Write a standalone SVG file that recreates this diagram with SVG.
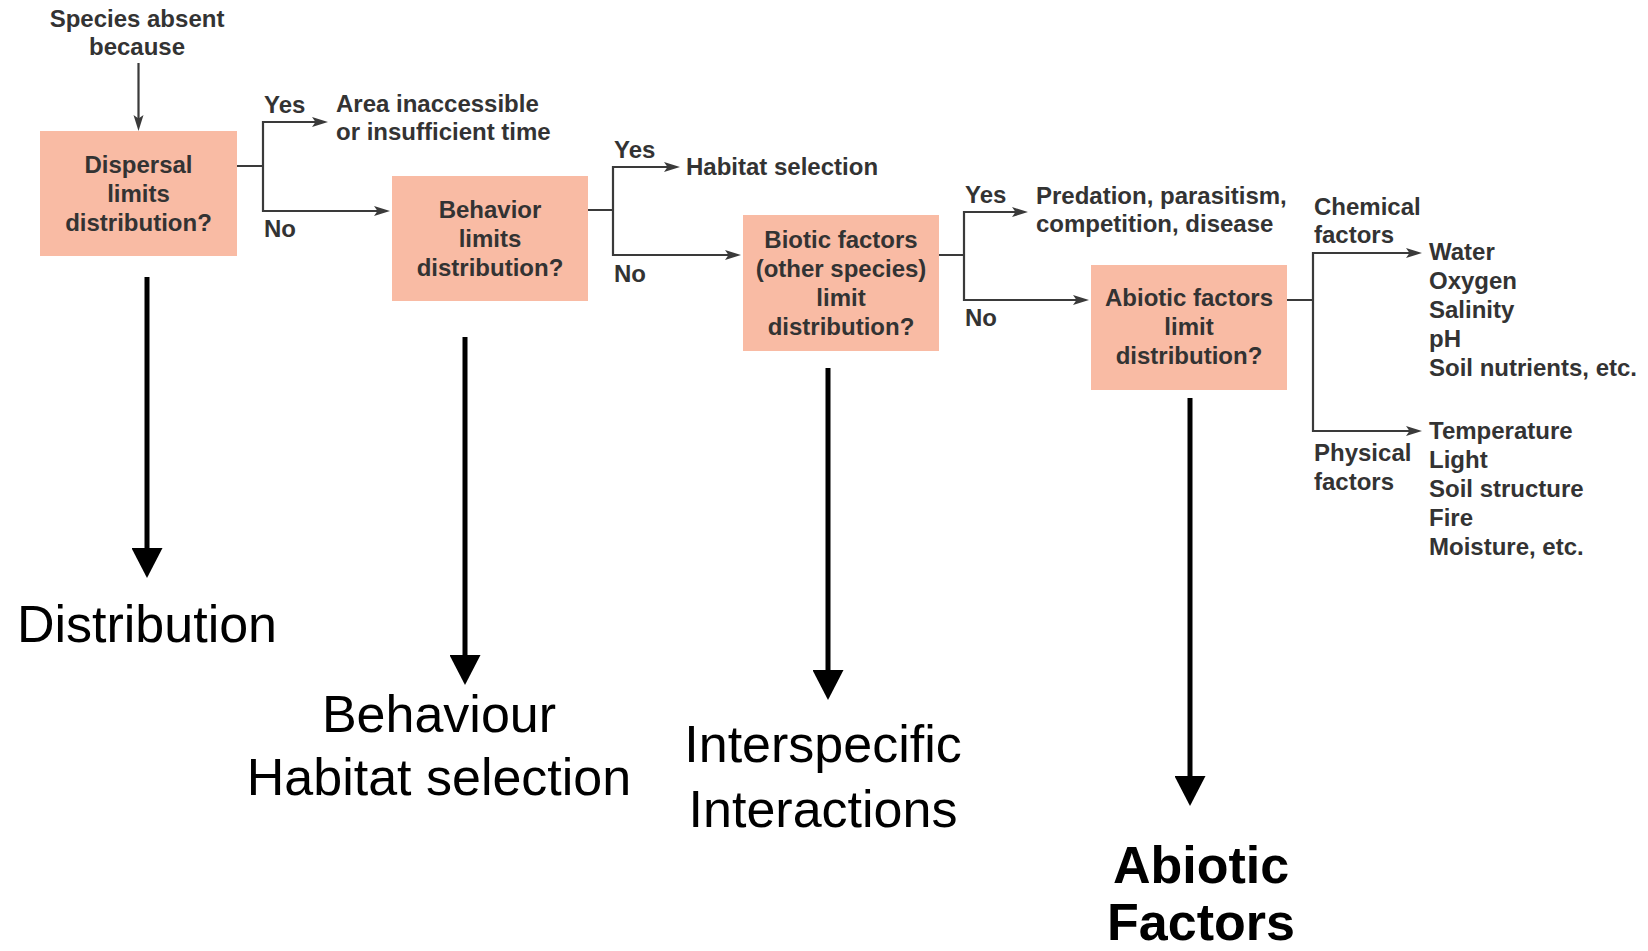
<svg xmlns="http://www.w3.org/2000/svg" width="1648" height="951" viewBox="0 0 1648 951">
<defs>
<style>
.box{fill:#f9bba4}
.t{font-family:"Liberation Sans",Arial,sans-serif;font-weight:bold;font-size:24px;fill:#333}
.c{text-anchor:middle}
.ln{fill:none;stroke:#3a3a3a;stroke-width:2.2}
.big{fill:none;stroke:#000;stroke-width:5}
.bt{font-family:"Liberation Sans",Arial,sans-serif;font-size:52px;fill:#000;text-anchor:middle}
</style>
<marker id="sa" markerUnits="userSpaceOnUse" markerWidth="16" markerHeight="11" refX="4" refY="5" orient="auto" viewBox="0 0 16 10">
<path d="M0,0 L16,5 L0,10 L3.5,5 z" fill="#3a3a3a"/>
</marker>
<marker id="ba" markerUnits="userSpaceOnUse" markerWidth="30" markerHeight="31" refX="4" refY="15.5" orient="auto" viewBox="0 0 30 31">
<path d="M0,0 L30,15.5 L0,31 z" fill="#000"/>
</marker>
</defs>
<rect width="1648" height="951" fill="#fff"/>

<g id="start">
<text class="t c" x="137" y="27">Species absent</text>
<text class="t c" x="137" y="55">because</text>
</g>

<g id="dispersal">
<rect class="box" x="40" y="131" width="197" height="125"/>
<text class="t c" x="138.5" y="173">Dispersal</text>
<text class="t c" x="138.5" y="202">limits</text>
<text class="t c" x="138.5" y="231">distribution?</text>
</g>

<g id="area">
<text class="t" x="336" y="112">Area inaccessible</text>
<text class="t" x="336" y="140">or insufficient time</text>
</g>

<g id="behavior">
<rect class="box" x="392" y="176" width="196" height="125"/>
<text class="t c" x="490" y="218">Behavior</text>
<text class="t c" x="490" y="247">limits</text>
<text class="t c" x="490" y="276">distribution?</text>
</g>

<g id="habitat">
<text class="t" x="686" y="175">Habitat selection</text>
</g>

<g id="biotic">
<rect class="box" x="743" y="215" width="196" height="136"/>
<text class="t c" x="841" y="248">Biotic factors</text>
<text class="t c" x="841" y="277">(other species)</text>
<text class="t c" x="841" y="306">limit</text>
<text class="t c" x="841" y="335">distribution?</text>
</g>

<g id="predation">
<text class="t" x="1036" y="204">Predation, parasitism,</text>
<text class="t" x="1036" y="232">competition, disease</text>
</g>

<g id="abiotic">
<rect class="box" x="1091" y="265" width="196" height="125"/>
<text class="t c" x="1189" y="306">Abiotic factors</text>
<text class="t c" x="1189" y="335">limit</text>
<text class="t c" x="1189" y="364">distribution?</text>
</g>

<g id="chemical">
<text class="t" x="1314" y="215">Chemical</text>
<text class="t" x="1314" y="243">factors</text>
<text class="t" x="1429" y="260">Water</text>
<text class="t" x="1429" y="289">Oxygen</text>
<text class="t" x="1429" y="318">Salinity</text>
<text class="t" x="1429" y="347">pH</text>
<text class="t" x="1429" y="376">Soil nutrients, etc.</text>
</g>

<g id="physical">
<text class="t" x="1314" y="461">Physical</text>
<text class="t" x="1314" y="490">factors</text>
<text class="t" x="1429" y="439">Temperature</text>
<text class="t" x="1429" y="468">Light</text>
<text class="t" x="1429" y="497">Soil structure</text>
<text class="t" x="1429" y="526">Fire</text>
<text class="t" x="1429" y="555">Moisture, etc.</text>
</g>

<g id="label-distribution">
<text class="bt" x="147" y="642">Distribution</text>
</g>
<g id="label-behaviour">
<text class="bt" x="439" y="732">Behaviour</text>
<text class="bt" x="439" y="795">Habitat selection</text>
</g>
<g id="label-interspecific">
<text class="bt" x="823" y="762">Interspecific</text>
<text class="bt" x="823" y="827">Interactions</text>
</g>
<g id="label-abiotic">
<text class="bt" x="1201" y="883" font-weight="bold">Abiotic</text>
<text class="bt" x="1201" y="940" font-weight="bold">Factors</text>
</g>

<g id="connectors">
<path class="ln" d="M138.5,63 V119" marker-end="url(#sa)"/>
<path class="ln" d="M237,166 H263 M263,121 V212"/>
<path class="ln" d="M263,122 H316" marker-end="url(#sa)"/>
<path class="ln" d="M263,211 H378" marker-end="url(#sa)"/>
<text class="t" x="264" y="113">Yes</text>
<text class="t" x="264" y="237">No</text>

<path class="ln" d="M588,210 H613 M613,166 V256"/>
<path class="ln" d="M613,167 H668" marker-end="url(#sa)"/>
<path class="ln" d="M613,255 H729" marker-end="url(#sa)"/>
<text class="t" x="614" y="158">Yes</text>
<text class="t" x="614" y="282">No</text>

<path class="ln" d="M939,255 H964 M964,211 V301"/>
<path class="ln" d="M964,212 H1016" marker-end="url(#sa)"/>
<path class="ln" d="M964,300 H1077" marker-end="url(#sa)"/>
<text class="t" x="965" y="203">Yes</text>
<text class="t" x="965" y="326">No</text>

<path class="ln" d="M1287,300 H1313 M1313,252 V432"/>
<path class="ln" d="M1313,253 H1410" marker-end="url(#sa)"/>
<path class="ln" d="M1313,431 H1410" marker-end="url(#sa)"/>

<path class="big" d="M147,277 V552" marker-end="url(#ba)"/>
<path class="big" d="M465,337 V659" marker-end="url(#ba)"/>
<path class="big" d="M828,368 V674" marker-end="url(#ba)"/>
<path class="big" d="M1190,398 V780" marker-end="url(#ba)"/>
</g>
</svg>
